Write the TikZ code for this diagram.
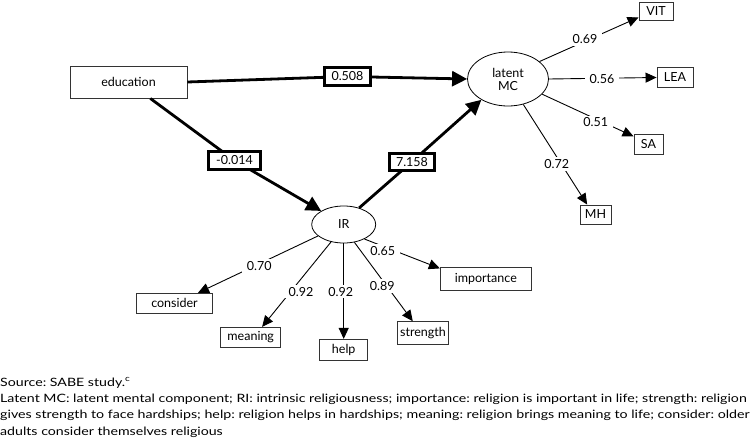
\documentclass[tikz,border=0pt]{standalone}
\usepackage{fontspec}
\usepackage{graphicx}
\setmainfont{Lato}
\usetikzlibrary{arrows.meta,shapes.geometric}
\newcommand\nodefont{\fontsize{12.5}{14}\selectfont}
\newcommand\capsize{\fontsize{11.5}{13}\selectfont\frenchspacing}
\newcommand\capA{Latent MC: latent mental component; RI: intrinsic religiousness; importance: religion is important in life; strength: religion}
\newcommand\capB{gives strength to face hardships; help: religion helps in hardships; meaning: religion brings meaning to life; consider: older}
\newlength\capnat
\begin{document}
\settowidth\capnat{\capsize\capA}
\pgfmathsetmacro\capfac{746.5/\capnat}
\begin{tikzpicture}[x=1pt,y=-1pt,
  vbox/.style={draw=black!80, line width=0.9pt, rectangle, inner sep=0pt, font=\nodefont},
  wbox/.style={draw, line width=2.8pt, fill=white, rectangle, inner sep=0pt, font=\nodefont},
  lat/.style={draw, ellipse, line width=0.8pt, inner sep=0pt, font=\nodefont},
  bigarrow/.style={line width=2.8pt, -{Triangle[length=15pt,width=15pt]}},
  smallarrow/.style={line width=0.9pt, -{Triangle[length=11pt,width=10pt]}},
  coef/.style={fill=white, inner xsep=4.5pt, inner ysep=2pt, font=\nodefont},
  captext/.style={anchor=base west, inner sep=0pt, font=\capsize}
]
\useasboundingbox (0,0) rectangle (750,442);
% variables
\node[vbox, minimum width=117pt, minimum height=32pt] (edu) at (128.5,82) {education};
\node[lat, minimum width=81pt, minimum height=54pt, align=center] (mc) at (508,79) {latent\\[-1pt]MC};
\node[lat, minimum width=64pt, minimum height=37pt] (ir) at (343.7,224.5) {IR};
\node[vbox, minimum width=34pt, minimum height=18pt] (vit) at (656,11) {VIT};
\node[vbox, minimum width=36pt, minimum height=19.5pt] (lea) at (675,77.5) {LEA};
\node[vbox, minimum width=29pt, minimum height=20pt] (sa) at (648.5,144) {SA};
\node[vbox, minimum width=31pt, minimum height=19pt] (mh) at (595.5,214.5) {MH};
\node[vbox, minimum width=75.6pt, minimum height=20pt] (cons) at (174.5,303.3) {consider};
\node[vbox, minimum width=60pt, minimum height=20.4pt] (mean) at (250.7,337.5) {meaning};
\node[vbox, minimum width=47.7pt, minimum height=20.7pt] (help) at (343.7,349.7) {help};
\node[vbox, minimum width=50.6pt, minimum height=22.6pt] (str) at (423,333) {strength};
\node[vbox, minimum width=91pt, minimum height=22.7pt] (imp) at (485.8,279) {importance};
% structural paths with boxed coefficients
\coordinate (c508) at (347.5,76.5);
\coordinate (c014) at (234.5,160.5);
\coordinate (c7158) at (412,161.7);
\draw[bigarrow] (edu.east) -- (c508) -- (mc.west);
\draw[bigarrow] (edu.-37) -- (c014) -- (ir.149);
\draw[bigarrow] (ir.47) -- (c7158) -- (mc.218);
\node[wbox, minimum width=46pt, minimum height=18pt] (b508) at (c508) {0.508};
\node[wbox, minimum width=52pt, minimum height=18pt] (b014) at (c014) {-0.014};
\node[wbox, minimum width=45pt, minimum height=17pt] (b7158) at (c7158) {7.158};
% loadings
\draw[smallarrow] (mc.29) -- (vit.200);
\draw[smallarrow] (mc.east) -- (lea.west);
\draw[smallarrow] (mc.-24) -- (sa.153);
\draw[smallarrow] (mc.-59) -- (mh.130);
\draw[smallarrow] (ir.204) -- (cons.24);
\draw[smallarrow] (ir.234) -- (mean.43);
\draw[smallarrow] (ir.south) -- (help.north);
\draw[smallarrow] (ir.-59) -- (str.131);
\draw[smallarrow] (ir.-35) -- (imp.167);
\node[coef] (l69) at (585,39) {0.69};
\node[coef] (l56) at (602,78.7) {0.56};
\node[coef] (l51) at (595.7,122.3) {0.51};
\node[coef] (l72) at (556.7,164) {0.72};
\node[coef] (l70) at (259.3,266) {0.70};
\node[coef] (l92a) at (301,291.7) {0.92};
\node[coef] (l92b) at (340.7,291.7) {0.92};
\node[coef] (l89) at (382.3,286) {0.89};
\node[coef] (l65) at (382.7,250.7) {0.65};
% caption
\node[captext] (src) at (0,386) {\scalebox{\capfac}[1]{Source: SABE study.\textsuperscript{c}}};
\node[captext] (cap1) at (0,402.3) {\resizebox{746.5pt}{\height}{\capA}};
\node[captext] (cap2) at (0,418.6) {\resizebox{749.5pt}{\height}{\capB}};
\node[captext] (cap3) at (0,435) {\scalebox{\capfac}[1]{adults consider themselves religious}};
\end{tikzpicture}
\end{document}
